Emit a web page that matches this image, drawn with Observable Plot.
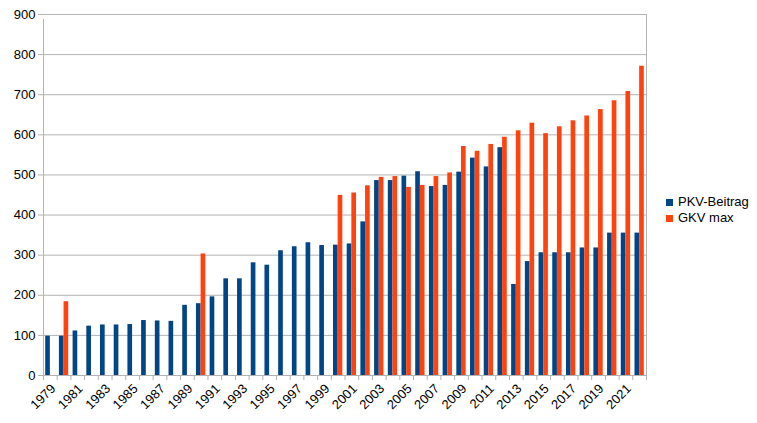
<!DOCTYPE html>
<html>
<head>
<meta charset="utf-8">
<script src="https://cdn.jsdelivr.net/npm/d3@7"></script>
<script src="https://cdn.jsdelivr.net/npm/@observablehq/plot@0.6"></script>
<style>
  html, body { margin: 0; padding: 0; background: #fff; }
  #wrap { position: relative; width: 757px; height: 423px; font-family: "Liberation Sans", Arial, sans-serif; }
  #legend { position: absolute; left: 666px; top: 194px; font-size: 13px; line-height: 16px; color: #000; }
  #legend div { display: flex; align-items: center; white-space: nowrap; }
  #legend span.sw { display: inline-block; width: 7px; height: 7px; margin-right: 5px; }
</style>
</head>
<body>
<div id="wrap"><div id="legend"></div></div>
<script>
const years = [1979,1980,1981,1982,1983,1984,1985,1986,1987,1988,1989,1990,1991,1992,1993,1994,1995,1996,1997,1998,1999,2000,2001,2002,2003,2004,2005,2006,2007,2008,2009,2010,2011,2012,2013,2014,2015,2016,2017,2018,2019,2020,2021,2022];
const pkv = [98,98,111,123,126,126,127,137,136,135,175,179,196,241,241,281,275,311,321,331,324,325,328,383,486,486,497,508,471,474,507,542,520,568,227,284,306,306,306,318,318,355,355,355];
const gkv = [null,184,null,null,null,null,null,null,null,null,null,303,null,null,null,null,null,null,null,null,null,449,455,473,494,496,469,474,496,505,571,559,576,594,610,629,603,620,635,647,663,685,708,771];
const seriesNames = ["PKV-Beitrag", "GKV max"];
const seriesColors = ["#004586", "#ff420e"];
const yTicks = [0,100,200,300,400,500,600,700,800,900];
const labelYears = years.filter((y, i) => i % 2 === 0);

const table = years.map((year, i) => ({year, pkv: pkv[i], gkv: gkv[i]}));
const boundaries = years.map(y => y - 0.5).concat([years[years.length - 1] + 0.5]);
const grid = "#b3b3b3";

const chart = Plot.plot({
  width: 757,
  height: 423,
  marginLeft: 43,
  marginRight: 111,
  marginTop: 14,
  marginBottom: 48,
  style: {fontFamily: "Liberation Sans, Arial, sans-serif", fontSize: "13px", background: "#fff", color: "#000"},
  x: {type: "linear", domain: [years[0] - 0.5, years[years.length - 1] + 0.5]},
  y: {domain: [0, 900]},
  marks: [
    Plot.gridY({ticks: yTicks, stroke: grid, strokeOpacity: 1}),
    Plot.ruleX([boundaries[boundaries.length - 1]], {stroke: grid}),
    Plot.rectY(table, {x1: d => d.year - 0.34, x2: d => d.year, y: "pkv", fill: seriesColors[0]}),
    Plot.rectY(table.filter(d => d.gkv != null), {x1: d => d.year, x2: d => d.year + 0.34, y: "gkv", fill: seriesColors[1]}),
    Plot.ruleX([boundaries[0]], {stroke: grid, y1: 0, y2: 900, insetBottom: -5}),
    Plot.axisY({ticks: yTicks, tickSize: 5, tickPadding: 3, stroke: grid, label: null}),
    Plot.axisX({ticks: boundaries, tickSize: 5, tickFormat: () => "", stroke: grid, label: null}),
    Plot.axisX({ticks: labelYears, tickSize: 0, tickPadding: 11, tickRotate: -45, tickFormat: d => String(d), label: null, dx: 3})
  ]
});
document.getElementById("wrap").prepend(chart);

const legend = document.getElementById("legend");
seriesNames.forEach((name, i) => {
  const row = document.createElement("div");
  const sw = document.createElement("span");
  sw.className = "sw";
  sw.style.background = seriesColors[i];
  row.appendChild(sw);
  row.appendChild(document.createTextNode(name));
  legend.appendChild(row);
});
</script>
</body>
</html>
